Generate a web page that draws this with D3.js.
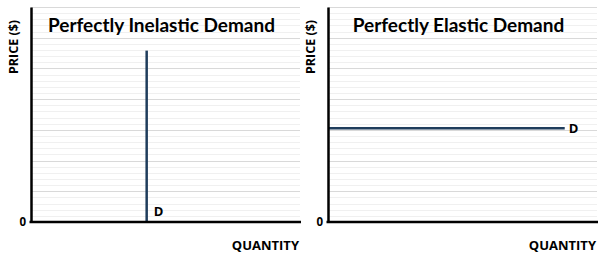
<!DOCTYPE html>
<html>
<head>
<meta charset="utf-8">
<script src="https://cdn.jsdelivr.net/npm/d3@7"></script>
<style>
  body { margin: 0; background: #fff; }
  text { font-family: "Open Sans", "Noto Sans", sans-serif; font-weight: bold; fill: #000; }
  text.title { font-family: Lato, "Open Sans", sans-serif; }
</style>
</head>
<body>
<script>
// panel titles and axis labels
const titles = ["Perfectly Inelastic Demand", "Perfectly Elastic Demand"];
const yLabel = "PRICE ($)",
  xLabel = "QUANTITY",
  originLabel = "0",
  curveLabel = "D";

// price grid: major steps 0..7, minor every 0.2
const majorTicks = [0, 1, 2, 3, 4, 5, 6, 7];
const minorTicks = d3.range(0, 36).map((i) => i / 5);

// demand curves, [quantity, price]
const inelasticCurve = [[4.3, 0], [4.3, 5.58]];
const elasticCurve = [[0, 3.05], [8.8, 3.05]];

const width = 600,
  height = 257,
  curveColor = "#1f3d5c",
  majorGrid = "#d9d9d9",
  minorGrid = "#f0f0f0";

const panels = [
  { title: titles[0], curve: inelasticCurve, x0: 31, x1: 300, labelAt: "bottom" },
  { title: titles[1], curve: elasticCurve, x0: 328, x1: 597, labelAt: "end" },
];

const svg = d3
  .select("body")
  .append("svg")
  .attr("width", width)
  .attr("height", height);

const y = d3.scaleLinear().domain([0, 7]).range([222, 7]);

panels.forEach((p) => {
  const x = d3.scaleLinear().domain([0, 10]).range([p.x0, p.x1]);
  const g = svg.append("g");

  // minor grid
  g.append("g")
    .selectAll("line")
    .data(minorTicks)
    .join("line")
    .attr("x1", x(0))
    .attr("x2", x(10))
    .attr("y1", (d) => Math.round(y(d)) + 0.5)
    .attr("y2", (d) => Math.round(y(d)) + 0.5)
    .attr("stroke", minorGrid)
    .attr("stroke-width", 1);

  // major grid
  g.append("g")
    .selectAll("line")
    .data(majorTicks.slice(1))
    .join("line")
    .attr("x1", x(0))
    .attr("x2", x(10))
    .attr("y1", (d) => Math.round(y(d)) + 0.5)
    .attr("y2", (d) => Math.round(y(d)) + 0.5)
    .attr("stroke", majorGrid)
    .attr("stroke-width", 1);

  // demand curve
  g.append("path")
    .datum(p.curve)
    .attr("fill", "none")
    .attr("stroke", curveColor)
    .attr("stroke-width", 2.5)
    .attr("d", d3.line().x((d) => x(d[0])).y((d) => y(d[1])));

  // axes
  const xAxis = g
    .append("g")
    .attr("transform", `translate(0,${y(0)})`)
    .call(d3.axisBottom(x).tickValues([]).tickSizeOuter(0));
  const yAxis = g
    .append("g")
    .attr("transform", `translate(${x(0)},0)`)
    .call(d3.axisLeft(y).tickValues([]).tickSizeOuter(0));
  [xAxis, yAxis].forEach((a) =>
    a.select(".domain").attr("stroke", "#000").attr("stroke-width", 2.5)
  );
  xAxis.select(".domain").attr("d", `M${x(0) - 1.5},0H${x(10) + 1}`);

  // title
  g.append("text")
    .attr("class", "title")
    .attr("x", (x(0) + x(10)) / 2 - 4)
    .attr("y", 32)
    .attr("text-anchor", "middle")
    .attr("font-size", 19)
    .text(p.title);

  // y label
  g.append("text")
    .attr("transform", `translate(${x(0) - 13},47) rotate(-90)`)
    .attr("text-anchor", "middle")
    .attr("font-size", 12.5)
    .text(yLabel);

  // origin
  g.append("text")
    .attr("x", x(0) - 5)
    .attr("y", y(0) + 4)
    .attr("text-anchor", "end")
    .attr("font-size", 11.5)
    .text(originLabel);

  // x label
  g.append("text")
    .attr("x", x(10) - 1)
    .attr("y", 250)
    .attr("text-anchor", "end")
    .attr("font-size", 13)
    .text(xLabel);

  // curve label
  const last = p.curve[p.curve.length - 1];
  if (p.labelAt === "bottom") {
    g.append("text")
      .attr("x", x(p.curve[0][0]) + 7)
      .attr("y", y(0) - 6)
      .attr("font-size", 13)
      .text(curveLabel);
  } else {
    g.append("text")
      .attr("x", x(last[0]) + 4)
      .attr("y", y(last[1]) + 5)
      .attr("font-size", 13)
      .text(curveLabel);
  }
});
</script>
</body>
</html>
